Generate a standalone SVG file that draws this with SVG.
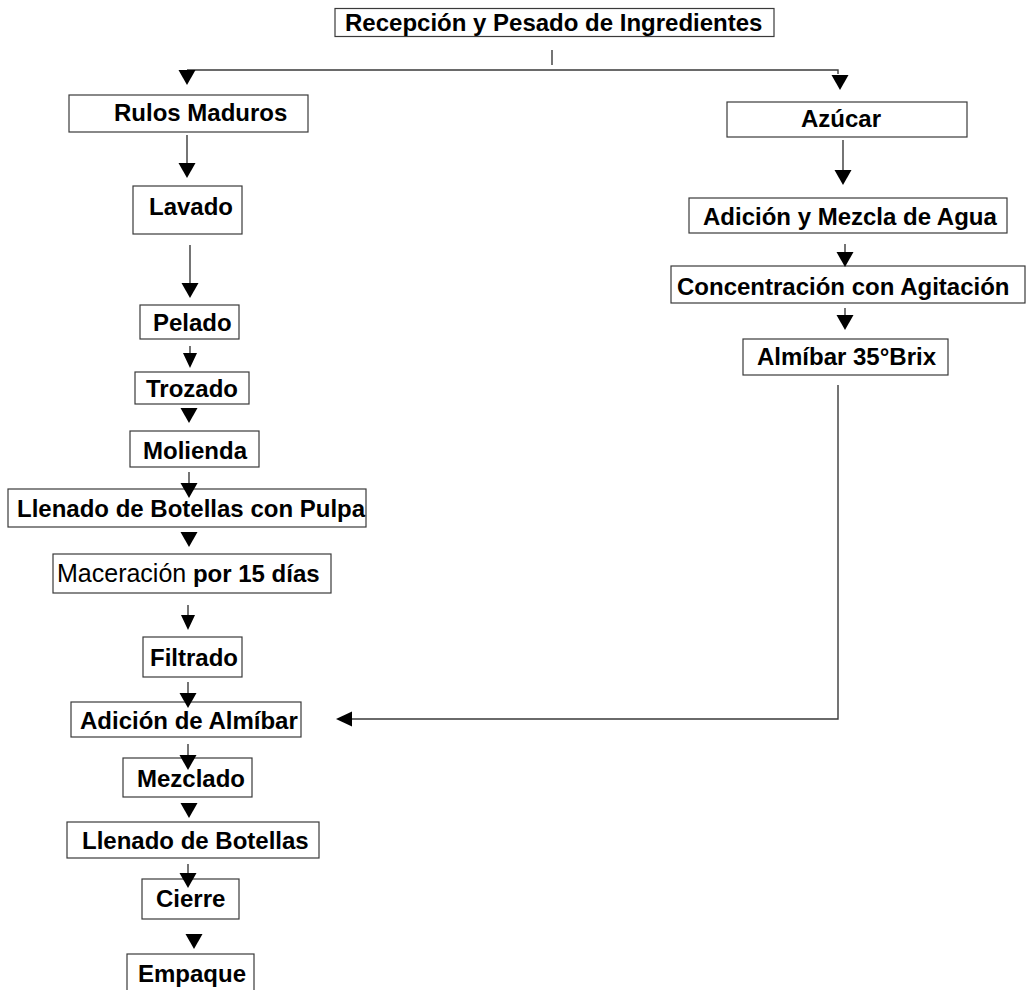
<svg xmlns="http://www.w3.org/2000/svg" width="1027" height="990" viewBox="0 0 1027 990">
  <style>
    .box { fill: #ffffff; stroke: #3a3a3a; stroke-width: 1.2; }
    .lbl { font-family: "Liberation Sans", Arial, sans-serif; font-size: 24px; font-weight: bold; fill: #000; }
    .reg { font-weight: normal; font-size: 25px; }
    .ln { fill: none; stroke: #3a3a3a; stroke-width: 1.4; }
    .ah { fill: #000; }
  </style>
  <defs>
    <!-- downward pointing arrowhead, base at y=0, tip at y=15 -->
    <path id="down" class="ah" d="M-8.5,0 L8.5,0 L0,15 Z"/>
    <path id="downS" class="ah" d="M-7,0 L7,0 L0,15 Z"/>
  </defs>
  <rect width="1027" height="990" fill="#ffffff"/>

  <g id="recepcion">
    <rect class="box" x="335" y="8.5" width="439" height="28"/>
    <text class="lbl" x="345" y="31">Recepción y Pesado de Ingredientes</text>
  </g>
  <g id="rulos">
    <rect class="box" x="69" y="95" width="239" height="37"/>
    <text class="lbl" x="114" y="121">Rulos Maduros</text>
  </g>
  <g id="lavado">
    <rect class="box" x="133" y="186" width="109" height="48"/>
    <text class="lbl" x="149" y="215">Lavado</text>
  </g>
  <g id="pelado">
    <rect class="box" x="140" y="305" width="99" height="34"/>
    <text class="lbl" x="153" y="331">Pelado</text>
  </g>
  <g id="trozado">
    <rect class="box" x="135" y="372" width="114" height="32"/>
    <text class="lbl" x="146" y="397">Trozado</text>
  </g>
  <g id="molienda">
    <rect class="box" x="130" y="431" width="129" height="36"/>
    <text class="lbl" x="143" y="459">Molienda</text>
  </g>
  <g id="llenado-pulpa">
    <rect class="box" x="8" y="489" width="358" height="38"/>
    <text class="lbl" x="17" y="517">Llenado de Botellas con Pulpa</text>
  </g>
  <g id="maceracion">
    <rect class="box" x="53" y="554" width="278" height="39"/>
    <text class="lbl" x="57" y="582"><tspan class="reg">Maceración</tspan> por 15 días</text>
  </g>
  <g id="filtrado">
    <rect class="box" x="143" y="637" width="99" height="40"/>
    <text class="lbl" x="150" y="666">Filtrado</text>
  </g>
  <g id="adicion-almibar">
    <rect class="box" x="71" y="702" width="230" height="35"/>
    <text class="lbl" x="80" y="729">Adición de Almíbar</text>
  </g>
  <g id="mezclado">
    <rect class="box" x="123" y="758" width="129" height="39"/>
    <text class="lbl" x="137" y="787">Mezclado</text>
  </g>
  <g id="llenado">
    <rect class="box" x="67" y="822" width="252" height="36"/>
    <text class="lbl" x="82" y="849">Llenado de Botellas</text>
  </g>
  <g id="cierre">
    <rect class="box" x="142" y="879" width="97" height="40"/>
    <text class="lbl" x="156" y="907">Cierre</text>
  </g>
  <g id="empaque">
    <rect class="box" x="127" y="954" width="127" height="45"/>
    <text class="lbl" x="138" y="982">Empaque</text>
  </g>
  <g id="azucar">
    <rect class="box" x="727" y="102" width="240" height="35"/>
    <text class="lbl" x="801" y="127">Azúcar</text>
  </g>
  <g id="adicion-agua">
    <rect class="box" x="689" y="198" width="318" height="35"/>
    <text class="lbl" x="703" y="225">Adición y Mezcla de Agua</text>
  </g>
  <g id="concentracion">
    <rect class="box" x="671" y="266" width="354" height="37"/>
    <text class="lbl" x="677" y="295">Concentración con Agitación</text>
  </g>
  <g id="almibar">
    <rect class="box" x="743" y="339" width="205" height="36"/>
    <text class="lbl" x="757" y="365">Almíbar 35°Brix</text>
  </g>

  <!-- connectors sit on top of the boxes, so heads may overlap box edges -->
  <g id="connectors">
    <!-- split below the reception step -->
    <line class="ln" x1="552" y1="50" x2="552" y2="65"/>
    <polyline class="ln" points="187,70 838,70 838,74"/>
    <use href="#down" x="187" y="70"/>
    <use href="#down" x="840" y="75"/>
    <!-- fruit line -->
    <line class="ln" x1="187" y1="135" x2="187" y2="163"/>
    <use href="#down" x="187" y="163"/>
    <line class="ln" x1="190" y1="245" x2="190" y2="283"/>
    <use href="#down" x="190" y="283"/>
    <line class="ln" x1="190" y1="346" x2="190" y2="353"/>
    <use href="#downS" x="190" y="353"/>
    <use href="#down" x="189" y="408"/>
    <line class="ln" x1="189" y1="472" x2="189" y2="484"/>
    <use href="#down" x="189" y="483"/>
    <use href="#down" x="189" y="532"/>
    <line class="ln" x1="188" y1="605" x2="188" y2="616"/>
    <use href="#downS" x="188" y="615"/>
    <line class="ln" x1="188" y1="682" x2="188" y2="694"/>
    <use href="#down" x="188" y="693"/>
    <line class="ln" x1="188" y1="744" x2="188" y2="756"/>
    <use href="#down" x="188" y="755"/>
    <use href="#down" x="189" y="803"/>
    <line class="ln" x1="188" y1="864" x2="188" y2="874"/>
    <use href="#down" x="188" y="873"/>
    <use href="#down" x="194" y="934"/>
    <!-- syrup line -->
    <line class="ln" x1="843" y1="140" x2="843" y2="170"/>
    <use href="#down" x="843" y="170"/>
    <line class="ln" x1="845" y1="244" x2="845" y2="252"/>
    <use href="#down" x="845" y="252"/>
    <line class="ln" x1="845" y1="308" x2="845" y2="316"/>
    <use href="#down" x="845" y="315"/>
    <!-- syrup returned to the fruit line -->
    <polyline class="ln" points="838,385 838,719 352,719"/>
    <path class="ah" d="M336,719 L352,711.5 L352,726.5 Z"/>
  </g>
</svg>
